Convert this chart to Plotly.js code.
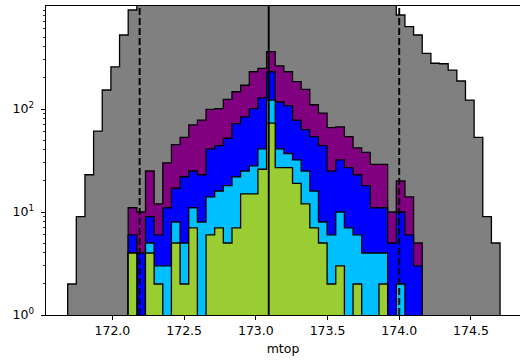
<!DOCTYPE html>
<html>
<head>
<meta charset="utf-8">
<script src="https://cdn.plot.ly/plotly-3.0.1.min.js"></script>
<style>
  html, body { margin: 0; padding: 0; background: #ffffff; overflow: hidden; }
  #chart { width: 520px; height: 364px; }
</style>
</head>
<body>
<div id="chart"></div>
<script>
// Histogram binning of the top-quark mass (50 equal bins)
const binLo = 171.688;
const binHi = 174.703;
const nBins = 50;

// Counts per bin, one array per selection (outermost first)
const countsAll = [
  2, 9, 23, 61, 153, 257, 523, 914,
  1150, 1400, 1700, 2000, 2300, 2600, 2900, 3100, 3300, 3500,
  3600, 3700, 3750, 3800, 3850, 3800, 3700, 3600, 3450, 3300,
  3100, 2900, 2600, 2300, 2000, 1750, 1500, 1300, 1150, 1050,
  818, 630, 523, 347, 278, 275, 239, 187, 122, 53, 9, 5
];
const countsPurple = [
  0, 0, 0, 0, 0, 0, 0,
  11, 10, 25, 12, 30, 45, 53, 70, 78, 99, 101, 124, 147, 170, 230, 248, 360,
  262, 230, 184, 155, 110, 91, 66, 67, 54, 42, 38, 29, 29, 10, 20, 14, 5,
  0, 0, 0, 0, 0, 0, 0, 0, 0
];
const countsBlue = [
  0, 0, 0, 0, 0, 0, 0,
  6, 4, 9, 6, 11, 17, 22, 25, 23, 41, 44, 52, 72, 84, 101, 128, 230,
  117, 108, 78, 63, 54, 44, 25, 32, 27, 23, 18, 11, 11, 5, 10, 6, 3,
  0, 0, 0, 0, 0, 0, 0, 0, 0
];
const countsSky = [
  0, 0, 0, 0, 0, 0, 0,
  4, 0, 5, 3, 3, 8, 5, 11, 8, 14, 16, 18, 22, 25, 28, 41, 122,
  41, 37, 32, 25, 16, 8, 6, 10, 7, 6, 4, 4, 4, 0, 2, 0, 0,
  0, 0, 0, 0, 0, 0, 0, 0, 0
];
const countsGreen = [
  0, 0, 0, 0, 0, 0, 0,
  4, 0, 4, 2, 0, 5, 2, 7, 0, 6, 7, 5, 7, 15, 15, 26, 73,
  27, 27, 19, 12, 7, 5, 2, 3, 0, 2, 0, 0, 2, 0, 0, 0, 0,
  0, 0, 0, 0, 0, 0, 0, 0, 0
];

// Reference mass and window edges
const mtopNominal = 173.09;
const mtopWindowLow = 172.19;
const mtopWindowHigh = 174.0;

// Axis ticks
const xTickVals = [172.0, 172.5, 173.0, 173.5, 174.0, 174.5];
const xTickText = ['172.0', '172.5', '173.0', '173.5', '174.0', '174.5'];
const yTickVals = [1, 10, 100];
const yTickText = ['10<sup>0</sup>', '10<sup>1</sup>', '10<sup>2</sup>'];
const yMinorVals = [2,3,4,5,6,7,8,9,20,30,40,50,60,70,80,90,200,300,400,500,600,700,800,900];

const binEdges = [];
for (let i = 0; i <= nBins; i++) binEdges.push(binLo + (binHi - binLo) * i / nBins);

// Closed step outline of a filled histogram (matplotlib "stepfilled" look)
function stepOutline(counts) {
  const floor = 0.1; // below the visible log range, so the base gets clipped
  const xs = [binEdges[0]], ys = [floor];
  counts.forEach((c, k) => {
    const v = c > 0 ? c : floor;
    xs.push(binEdges[k], binEdges[k + 1]);
    ys.push(v, v);
  });
  xs.push(binEdges[nBins], binEdges[0]);
  ys.push(floor, floor);
  return { xs, ys };
}

function histTrace(counts, color) {
  const p = stepOutline(counts);
  return {
    type: 'scatter', mode: 'lines',
    x: p.xs, y: p.ys,
    fill: 'toself', fillcolor: color,
    line: { color: '#000000', width: 1.3, simplify: false },
    hoverinfo: 'skip', showlegend: false
  };
}

const traces = [
  histTrace(countsAll, '#808080'),
  histTrace(countsPurple, '#800080'),
  histTrace(countsBlue, '#0000ff'),
  histTrace(countsSky, '#00bfff'),
  histTrace(countsGreen, '#9acd32')
];

function vline(x, dash) {
  return {
    type: 'line', xref: 'x', yref: 'paper', x0: x, x1: x, y0: 0, y1: 1,
    line: { color: '#000000', width: 1.9, dash: dash }, layer: 'above'
  };
}

const layout = {
  width: 520, height: 364,
  margin: { l: 46, r: 0, t: 6, b: 49, pad: 0 },
  paper_bgcolor: '#ffffff', plot_bgcolor: '#ffffff',
  font: { family: 'DejaVu Sans, sans-serif', size: 12.5, color: '#000000' },
  showlegend: false,
  xaxis: {
    range: [171.537, 174.842],
    tickmode: 'array', tickvals: xTickVals, ticktext: xTickText,
    ticks: 'outside', ticklen: 4.4, tickwidth: 1, tickcolor: '#000000',
    showline: true, linecolor: '#000000', linewidth: 1, mirror: true,
    showgrid: false, zeroline: false,
    title: { text: 'mtop', font: { size: 12.5 }, standoff: 6 }
  },
  yaxis: {
    type: 'log', range: [0, 3.0],
    tickmode: 'array', tickvals: yTickVals, ticktext: yTickText,
    ticks: 'outside', ticklen: 4.4, tickwidth: 1, tickcolor: '#000000',
    ticklabelstandoff: 4,
    minor: { tickmode: 'array', tickvals: yMinorVals, ticks: 'outside', ticklen: 2.5, tickwidth: 0.8, tickcolor: '#000000', showgrid: false },
    showline: true, linecolor: '#000000', linewidth: 1, mirror: false,
    showgrid: false, zeroline: false
  },
  shapes: [
    vline(mtopNominal, 'solid'),
    vline(mtopWindowLow, '7px,3px'),
    vline(mtopWindowHigh, '7px,3px')
  ]
};

Plotly.newPlot('chart', traces, layout, { staticPlot: true, displayModeBar: false });
</script>
</body>
</html>
